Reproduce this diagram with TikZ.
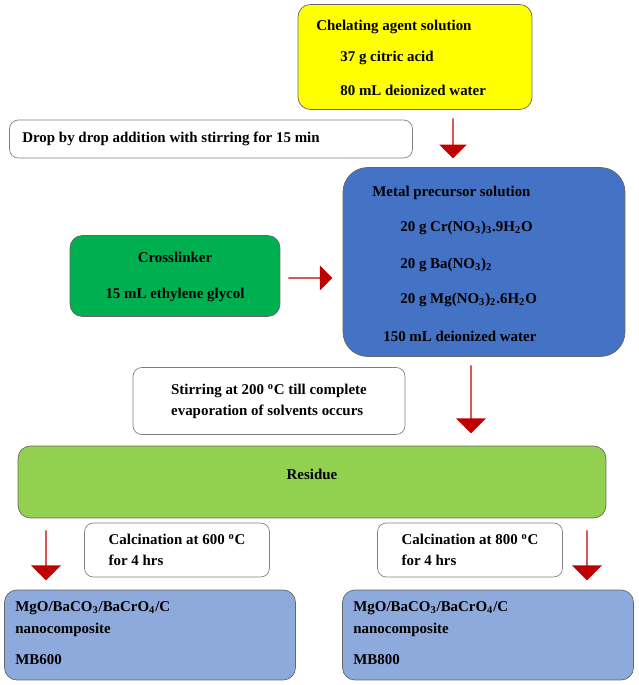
\documentclass[tikz,border=0pt]{standalone}
\usepackage{fontspec}
\setmainfont{Liberation Serif}
\usetikzlibrary{shapes.arrows}
\definecolor{boxyellow}{HTML}{FFFF00}
\definecolor{boxblue}{HTML}{4472C4}
\definecolor{boxgreen}{HTML}{00B050}
\definecolor{boxlime}{HTML}{92D050}
\definecolor{boxlight}{HTML}{8EA9DB}
\definecolor{arrowred}{HTML}{C00000}
\tikzset{
  box/.style={draw=black!60, rounded corners=7pt, inner sep=0pt},
  stepbox/.style={draw=black!50, fill=white, rounded corners=5pt, inner sep=0pt},
  txt/.style={anchor=west, inner sep=0pt, font=\fontsize{8.5}{12}\selectfont\bfseries},
  downarrow/.style={single arrow, draw=none, fill=arrowred, rotate=-90,
    single arrow head extend=4pt, minimum width=0.55cm, inner sep=0pt},
  rightarrow/.style={single arrow, draw=none, fill=arrowred,
    single arrow head extend=4pt, minimum width=0.5cm, inner sep=0pt}
}
\begin{document}
\begin{tikzpicture}[x=0.02cm,y=-0.02cm]
	\useasboundingbox (0,0) rectangle (638,685);
	% chelating agent
	\node[box, fill=boxyellow, minimum width=4.68cm, minimum height=2.1cm](CHEL) at (415,57){};
	\node[txt](C1) at (316,27){Chelating agent solution};
	\node[txt](C2) at (340,58){37 g citric acid};
	\node[txt](C3) at (340,90){80 mL deionized water};
	
	\node[stepbox, minimum width=8.06cm, minimum height=0.76cm](DROP) at (211,139){};
	\node[txt](D1) at (22,139){Drop by drop addition with stirring for 15 min};
	\node[downarrow, minimum height=0.8cm](A1) at (453,138){};
	
	% metal precursor
	\node[box, fill=boxblue, rounded corners=14pt, minimum width=5.64cm, minimum height=3.78cm](METAL) at (484,262){};
	\node[txt](M1) at (372,193){Metal precursor solution};
	\node[txt](M2) at (400,228){20 g Cr(NO\textsubscript{3})\textsubscript{3}.9H\textsubscript{2}O};
	\node[txt](M3) at (400,265){20 g Ba(NO\textsubscript{3})\textsubscript{2}};
	\node[txt](M4) at (400,300){20 g Mg(NO\textsubscript{3})\textsubscript{2}.6H\textsubscript{2}O};
	\node[txt](M5) at (383,336){150 mL deionized water};
	
	% crosslinker
	\node[box, fill=boxgreen, minimum width=4.2cm, minimum height=1.62cm](CROSS) at (175,276){};
	\node[txt, anchor=center](X1) at (175,257){Crosslinker};
	\node[txt, anchor=center](X2) at (175,295){15 mL ethylene glycol};
	\node[rightarrow, minimum height=0.88cm](A2) at (310,278){};
	
	\node[stepbox, minimum width=5.44cm, minimum height=1.34cm, align=left, font=\fontsize{8.5}{12}\selectfont\bfseries](STIR) at (269,401){Stirring at 200 \textsuperscript{o}C till complete\\evaporation of solvents occurs};
	\node[downarrow, minimum height=1.36cm, minimum width=0.6cm](A3) at (471,399){};
	
	% residue
	\node[box, fill=boxlime, minimum width=11.76cm, minimum height=1.44cm](RES) at (312,482){};
	\node[txt, anchor=center](R1) at (312,474){Residue};
	
	\node[downarrow, minimum height=1.0cm, minimum width=0.6cm](A4) at (46,555){};
	\node[stepbox, minimum width=3.7cm, minimum height=1.08cm, align=left, font=\fontsize{8.5}{12}\selectfont\bfseries](CAL1) at (177,550){Calcination at 600 \textsuperscript{o}C\\for 4 hrs\hspace{2.3cm}};
	\node[stepbox, minimum width=3.7cm, minimum height=1.08cm, align=left, font=\fontsize{8.5}{12}\selectfont\bfseries](CAL2) at (470,550){Calcination at 800 \textsuperscript{o}C\\for 4 hrs\hspace{2.3cm}};
	\node[downarrow, minimum height=1.0cm, minimum width=0.6cm](A5) at (587,555){};
	
	% products
	\node[box, fill=boxlight, minimum width=5.82cm, minimum height=1.8cm](MB1) at (150,635){};
	\node[txt](P1) at (15,608){MgO/BaCO\textsubscript{3}/BaCrO\textsubscript{4}/C};
	\node[txt](P2) at (15,630){nanocomposite};
	\node[txt](P3) at (15,660){MB600};
	\node[box, fill=boxlight, minimum width=5.82cm, minimum height=1.8cm](MB2) at (488,635){};
	\node[txt](Q1) at (353,608){MgO/BaCO\textsubscript{3}/BaCrO\textsubscript{4}/C};
	\node[txt](Q2) at (353,630){nanocomposite};
	\node[txt](Q3) at (353,660){MB800};
\end{tikzpicture}
\end{document}
